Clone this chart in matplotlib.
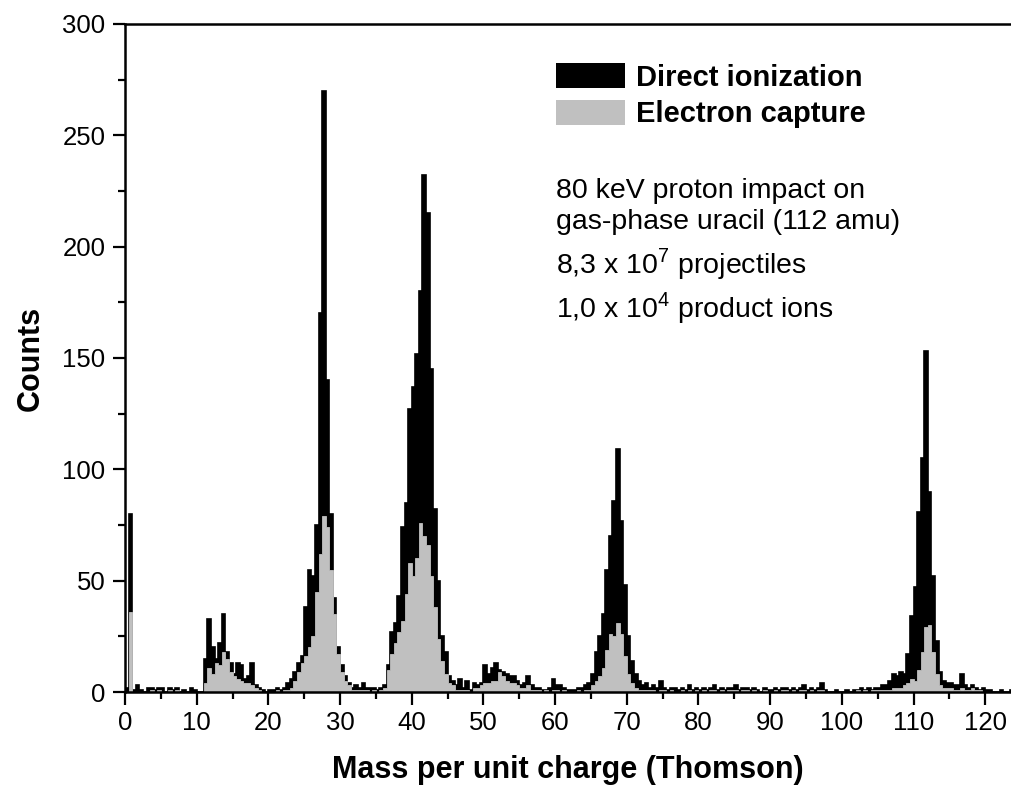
import numpy as np
import matplotlib
matplotlib.use('Agg')
import matplotlib.pyplot as plt
from matplotlib.patches import Patch

plt.rcParams['font.family'] = 'Liberation Sans'
plt.rcParams['mathtext.fontset'] = 'custom'
plt.rcParams['mathtext.rm'] = 'Liberation Sans'

# ── Données : histogramme, pas de 0.5 Thomson, de 0 à 124 ──
bin_width = 0.5
mass_max = 124.0

# une ligne = 10 Thomson (20 canaux)
direct = [
    2, 80, 1, 3, 1, 0, 2, 2, 1, 2, 2, 0, 2, 1, 2, 0, 1, 0, 2, 1,               # 0-10
    0, 0, 15, 33, 20, 15, 22, 35, 18, 13, 8, 13, 12, 6, 7, 13, 3, 2, 1, 0,     # 10-20
    1, 1, 2, 1, 2, 4, 6, 9, 13, 16, 38, 55, 52, 75, 170, 270, 140, 80, 42, 20, # 20-30
    12, 7, 4, 2, 3, 2, 4, 2, 2, 2, 1, 2, 3, 12, 27, 31, 43, 74, 85, 127,       # 30-40
    137, 152, 180, 232, 215, 145, 82, 50, 25, 18, 7, 5, 3, 6, 2, 5, 1, 4, 3, 4, # 40-50
    12, 8, 11, 13, 10, 9, 8, 7, 7, 5, 3, 4, 7, 3, 2, 2, 1, 1, 2, 6,            # 50-60
    3, 3, 2, 1, 1, 1, 2, 2, 3, 4, 8, 18, 25, 35, 55, 70, 86, 109, 77, 48,      # 60-70
    25, 14, 8, 5, 3, 4, 2, 3, 2, 5, 2, 1, 2, 2, 1, 2, 1, 3, 1, 2,              # 70-80
    1, 2, 1, 2, 3, 1, 2, 1, 2, 2, 3, 1, 2, 2, 1, 2, 1, 0, 2, 1,                # 80-90
    1, 2, 1, 2, 2, 1, 2, 1, 2, 3, 1, 2, 1, 2, 4, 1, 0, 0, 1, 0,                # 90-100
    0, 1, 0, 1, 1, 2, 1, 2, 1, 2, 2, 3, 3, 5, 8, 7, 9, 8, 17, 34,              # 100-110
    47, 81, 105, 153, 90, 52, 23, 9, 5, 4, 4, 3, 3, 8, 3, 2, 3, 2, 1, 2,       # 110-120
    1, 1, 0, 0, 1, 0, 0, 1,                                                    # 120-124
]

capture = [
    0, 36, 0, 0, 0, 0, 0, 1, 0, 1, 0, 0, 1, 0, 1, 0, 0, 0, 0, 0,
    0, 0, 4, 11, 8, 13, 12, 18, 15, 9, 7, 6, 5, 4, 4, 3, 2, 1, 0, 0,
    0, 0, 1, 0, 1, 1, 2, 5, 9, 13, 16, 20, 25, 45, 62, 79, 74, 55, 35, 17,
    9, 5, 3, 1, 1, 1, 1, 1, 0, 1, 0, 1, 2, 10, 17, 22, 27, 32, 44, 58,
    52, 60, 76, 70, 66, 52, 38, 24, 14, 8, 4, 3, 1, 1, 1, 1, 0, 2, 2, 3,
    4, 4, 5, 5, 9, 7, 5, 4, 4, 3, 2, 2, 3, 1, 1, 1, 0, 1, 0, 1,
    1, 0, 1, 0, 0, 0, 1, 0, 1, 1, 3, 5, 7, 11, 19, 26, 25, 31, 26, 16,
    8, 4, 2, 1, 1, 1, 1, 1, 0, 1, 1, 0, 1, 0, 0, 1, 0, 1, 0, 1,
    0, 1, 0, 1, 1, 0, 1, 0, 1, 1, 1, 0, 1, 1, 0, 1, 0, 0, 1, 0,
    0, 1, 0, 1, 1, 0, 1, 0, 1, 1, 0, 1, 0, 1, 1, 0, 0, 0, 0, 0,
    0, 0, 0, 0, 1, 0, 1, 0, 1, 1, 1, 1, 1, 1, 2, 2, 2, 3, 4, 6,
    5, 10, 18, 29, 30, 18, 8, 3, 2, 2, 2, 1, 1, 2, 1, 1, 2, 1, 1, 0,
    0, 0, 0, 0, 0, 0, 0, 0,
]

legend_labels = ["Direct ionization", "Electron capture"]
info_lines = ["80 keV proton impact on",
              "gas-phase uracil (112 amu)",
              r"8,3 x 10$^\mathregular{7}$ projectiles",
              r"1,0 x 10$^\mathregular{4}$ product ions"]

edges = np.arange(0, mass_max + bin_width / 2, bin_width)

# ── Figure ──
fig = plt.figure(figsize=(10.11, 7.94), dpi=100)
ax = fig.add_axes([125 / 1011, 102 / 794, 886 / 1011, 668 / 794])

ax.stairs(direct, edges, fill=True, facecolor='black', edgecolor='black', linewidth=1.2)
ax.stairs(capture, edges, fill=True, facecolor='#c0c0c0', edgecolor='#c0c0c0', linewidth=0.6)

ax.set_xlim(0, 123.6)
ax.set_ylim(0, 300)
ax.set_xticks(np.arange(0, 121, 10))
ax.set_xticks(np.arange(0, 124, 5), minor=True)
ax.set_yticks(np.arange(0, 301, 50))
ax.set_yticks(np.arange(0, 301, 25), minor=True)

for s in ['left', 'bottom', 'top']:
    ax.spines[s].set_linewidth(1.8)
ax.spines['right'].set_visible(False)
ax.tick_params(which='major', direction='out', length=9, width=1.6, labelsize=18.5, pad=5)
ax.tick_params(which='minor', direction='out', length=5, width=1.6)

ax.set_xlabel("Mass per unit charge (Thomson)", fontsize=22, fontweight='bold', labelpad=14)
ax.set_ylabel("Counts", fontsize=22, fontweight='bold', labelpad=12)

handles = [Patch(facecolor='black'), Patch(facecolor='#c0c0c0')]
ax.legend(handles, legend_labels, loc='upper left', bbox_to_anchor=(556 / 1011, 1 - 63 / 794),
          bbox_transform=fig.transFigure, frameon=False, borderpad=0, borderaxespad=0,
          handlelength=2.35, handleheight=0.95, handletextpad=0.4, labelspacing=0.28,
          prop={'weight': 'bold', 'size': 21})

ypos = [0.7395, 0.693, 0.627, 0.561]
for txt, yy in zip(info_lines, ypos):
    ax.text(0.4865, yy, txt, transform=ax.transAxes, fontsize=20.5, va='baseline', ha='left')

plt.savefig("out.png", dpi=100)
